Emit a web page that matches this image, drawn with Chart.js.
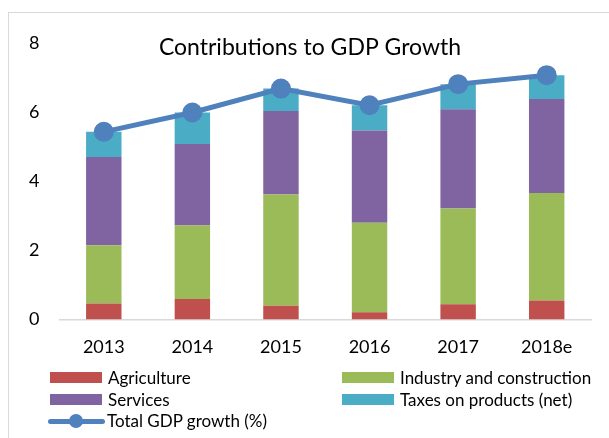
<!DOCTYPE html>
<html>
<head>
<meta charset="utf-8">
<script src="https://cdn.jsdelivr.net/npm/chart.js@4"></script>
<style>
    body { margin: 0; background: #fff; }
    #wrap { position: relative; width: 609px; height: 438px; overflow: hidden; font-family: Lato, "Liberation Sans", sans-serif; }
    #frame { position: absolute; left: 8px; top: 12px; right: -2px; bottom: -2px; border-left: 1px solid #d9d9d9; border-top: 1px solid #d9d9d9; }
    #gdpChart { position: absolute; left: 0; top: 0; }
    #legend { position: absolute; left: 50px; top: 367px; display: grid; grid-template-columns: 292px auto; font-size: 17px; color: #000; }
    .item { display: flex; align-items: center; height: 21.5px; white-space: nowrap; }
    .box { width: 52px; height: 11px; margin-right: 6px; }
    .linebox { position: relative; width: 57px; height: 14px; margin-left: -2px; margin-right: 2px; }
    .linebox .ln { position: absolute; left: 0; right: 0; top: 5px; height: 5px; border-radius: 3px; }
    .linebox .dot { position: absolute; left: 21px; top: 0; width: 14px; height: 14px; border-radius: 50%; }
</style>
</head>
<body>
<div id="wrap">
    <div id="frame"></div>
    <canvas id="gdpChart" width="609" height="438"></canvas>
    <div id="legend"></div>
</div>
<script>
const years = ['2013', '2014', '2015', '2016', '2017', '2018e'];
const agriculture = [0.46, 0.59, 0.40, 0.21, 0.44, 0.55];
const industry = [1.69, 2.13, 3.22, 2.59, 2.77, 3.11];
const services = [2.55, 2.36, 2.41, 2.67, 2.87, 2.72];
const taxes = [0.73, 0.91, 0.65, 0.73, 0.73, 0.69];
const totalGrowth = [5.43, 5.99, 6.68, 6.20, 6.81, 7.07];
const yTicks = [0, 2, 4, 6, 8];

const FONT = 'Lato, "Liberation Sans", sans-serif';

function barSet(label, data, color) {
    return {
        type: 'bar',
        label: label,
        data: data,
        backgroundColor: color,
        borderWidth: 0,
        barPercentage: 0.4,
        categoryPercentage: 1,
        order: 1
    };
}

// title sits inside the plot area, above the bars
const innerTitle = {
    id: 'innerTitle',
    afterDraw(chart) {
        const ctx = chart.ctx;
        ctx.save();
        ctx.font = '23px ' + FONT;
        ctx.fillStyle = '#000';
        ctx.textAlign = 'center';
        ctx.textBaseline = 'middle';
        ctx.fillText('Contributions to GDP Growth', 310, 48);
        ctx.restore();
    }
};

const ctx = document.getElementById('gdpChart').getContext('2d');
const gdpChart = new Chart(ctx, {
    data: {
        labels: years,
        datasets: [
            {
                type: 'line',
                label: 'Total GDP growth (%)',
                data: totalGrowth,
                borderColor: '#4f81bd',
                backgroundColor: '#4f81bd',
                borderWidth: 5,
                pointRadius: 7.5,
                pointHoverRadius: 7.5,
                tension: 0,
                order: 0
            },
            barSet('Agriculture', agriculture, '#c0504d'),
            barSet('Industry and construction', industry, '#9bbb59'),
            barSet('Services', services, '#8064a2'),
            barSet('Taxes on products (net)', taxes, '#4bacc6')
        ]
    },
    options: {
        responsive: false,
        animation: false,
        layout: { padding: { left: 0, right: 18, top: 43, bottom: 78.5 } },
        plugins: {
            legend: { display: false },
            title: { display: false },
            tooltip: { enabled: false }
        },
        scales: {
            x: {
                stacked: true,
                grid: { display: false, drawTicks: false },
                border: { display: true, color: '#d9d9d9', width: 1.5 },
                ticks: { color: '#000', padding: 17, font: { family: FONT, size: 18 } },
                afterFit(scale) { scale.height = 40; }
            },
            y: {
                stacked: true,
                min: 0,
                max: 8,
                grid: { display: false, drawTicks: false },
                border: { display: false },
                afterBuildTicks(scale) { scale.ticks = yTicks.map(v => ({ value: v })); },
                ticks: { color: '#000', padding: 20, font: { family: FONT, size: 18 } },
                afterFit(scale) { scale.width = 59.5; }
            }
        }
    },
    plugins: [innerTitle]
});

// legend in two columns: bars first, then the line series
function buildLegend(chart) {
    const legend = document.getElementById('legend');
    const sets = chart.data.datasets.filter(d => d.type === 'bar')
        .concat(chart.data.datasets.filter(d => d.type === 'line'));
    sets.forEach(ds => {
        const item = document.createElement('div');
        item.className = 'item';
        if (ds.type === 'line') {
            const sym = document.createElement('span');
            sym.className = 'linebox';
            sym.innerHTML = '<span class="ln"></span><span class="dot"></span>';
            sym.querySelector('.ln').style.background = ds.borderColor;
            sym.querySelector('.dot').style.background = ds.borderColor;
            item.appendChild(sym);
        } else {
            const box = document.createElement('span');
            box.className = 'box';
            box.style.background = ds.backgroundColor;
            item.appendChild(box);
        }
        const text = document.createElement('span');
        text.textContent = ds.label;
        item.appendChild(text);
        legend.appendChild(item);
    });
}
buildLegend(gdpChart);
</script>
</body>
</html>
